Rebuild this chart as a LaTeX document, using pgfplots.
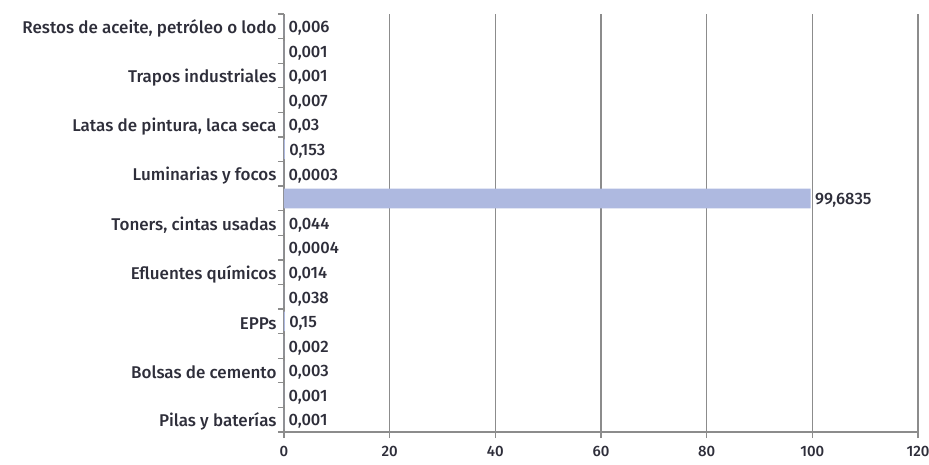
\documentclass[border=0pt]{standalone}
\usepackage{pgfplots}
\pgfplotsset{compat=1.18}
\usepackage{pgfplotstable}
\usepackage{fontspec}
\setmainfont{Fira Sans}[UprightFont=* Medium]
\definecolor{barc}{HTML}{AEB9E0}
\definecolor{gridc}{HTML}{8C8C8C}
\definecolor{txt}{HTML}{2E2E3A}
\pgfplotstableread{
y x lab
1 0.006 0,006
2 0.001 0,001
3 0.001 0,001
4 0.007 0,007
5 0.03 0,03
6 0.153 0,153
7 0.0003 0,0003
8 99.6835 99,6835
9 0.044 0,044
10 0.0004 0,0004
11 0.014 0,014
12 0.038 0,038
13 0.15 0,15
14 0.002 0,002
15 0.003 0,003
16 0.001 0,001
17 0.001 0,001
}\datatable
\begin{document}
\begin{tikzpicture}
\begin{axis}[
  scale only axis,
  width=634pt, height=418pt,
  xbar, bar width=0.8,
  xmin=0, xmax=120,
  ymin=0.5, ymax=17.5,
  y dir=reverse,
  axis x line*=bottom, axis y line*=left,
  axis line style={draw=gridc, line width=1.3pt, -},
  xtick={0,20,...,120},
  xmajorgrids,
  major grid style={draw=gridc, line width=1.3pt},
  x tick style={draw=gridc, line width=1.3pt},
  y tick style={draw=gridc, line width=1.3pt},
  major tick length=6pt,
  tick align=outside,
  ytick={0.5,1.5,...,17.5},
  yticklabels={},
  extra y ticks={1,3,5,7,9,11,13,15,17},
  extra y tick labels={{Restos de aceite, petróleo o lodo}, {Trapos industriales}, {Latas de pintura, laca seca}, {Luminarias y focos}, {Toners, cintas usadas}, {Efluentes químicos}, {EPPs}, {Bolsas de cemento}, {Pilas y baterías}},
  extra y tick style={major tick length=0pt, grid=none},
  yticklabel style={font=\fontsize{17}{18}\selectfont, text=txt, xshift=-4pt, yshift=-2pt},
  xticklabel style={font=\fontsize{15}{16}\selectfont, text=txt, yshift=-5pt},
  /pgf/number format/assume math mode=true,
  nodes near coords,
  point meta=explicit symbolic,
  every node near coord/.append style={font=\fontsize{16.5}{18}\selectfont, text=txt, anchor=west, xshift=1pt, yshift=-2pt},
]
\addplot[fill=barc, draw=none] table[x=x, y=y, meta=lab]{\datatable};
\end{axis}
\pgfresetboundingbox
\path[use as bounding box] (-284pt,-32pt) rectangle (645pt,432pt);
\end{tikzpicture}
\end{document}
